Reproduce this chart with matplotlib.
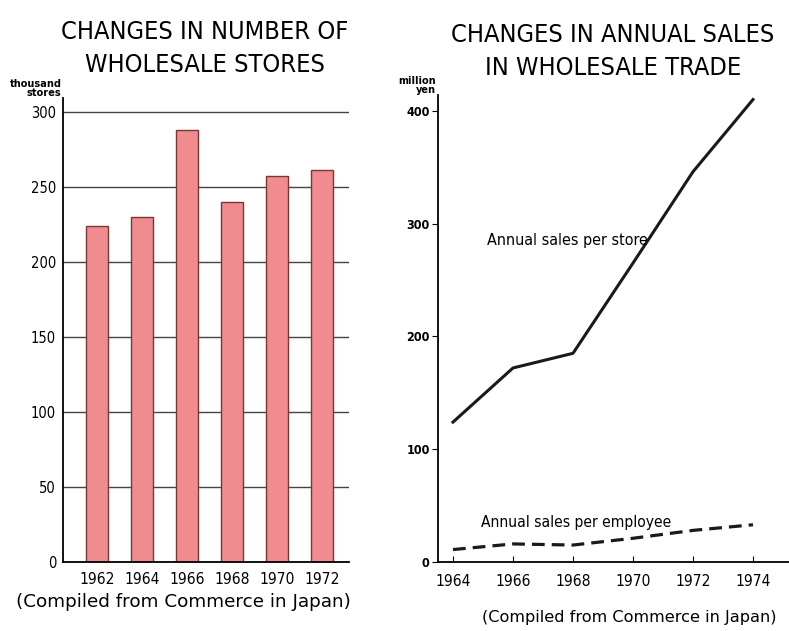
import matplotlib.pyplot as plt

plt.rcParams['font.family'] = ['DejaVu Sans']
plt.rcParams['font.stretch'] = 'condensed'

# left chart: number of wholesale stores (thousand)
store_years = ['1962', '1964', '1966', '1968', '1970', '1972']
store_counts = [224, 230, 288, 240, 257, 261]

# right chart: annual sales (million yen)
sales_years = [1964, 1966, 1968, 1970, 1972, 1974]
sales_per_store = [124, 172, 185, 265, 346, 410]
sales_per_employee = [11, 16, 15, 21, 28, 33]

fig = plt.figure(figsize=(7.89, 6.31), dpi=100)

# ---- left: bars
ax1 = fig.add_axes([0.0798, 0.1094, 0.3625, 0.7353])
x = range(len(store_years))
ax1.set_axisbelow(True)
ax1.yaxis.grid(True, color='#444444', linewidth=1.0)
ax1.bar(x, store_counts, width=0.49, color='#f08c90', edgecolor='#7a3535', linewidth=1.0)
ax1.set_xlim(-0.756, 5.6)
ax1.set_ylim(0, 309)
ax1.set_yticks([0, 50, 100, 150, 200, 250, 300])
ax1.set_xticks(list(x))
ax1.set_xticklabels(store_years, fontsize=11.2)
ax1.tick_params(axis='both', length=0)
ax1.tick_params(axis='y', labelsize=10.5, pad=5)
ax1.tick_params(axis='x', pad=7)
for s in ['top', 'right']:
    ax1.spines[s].set_visible(False)
ax1.spines['left'].set_linewidth(1.3)
ax1.spines['bottom'].set_linewidth(1.3)
ax1.text(-0.005, 1.0, 'thousand\nstores', transform=ax1.transAxes, ha='right', va='bottom',
         fontsize=7.8, fontweight='bold', linespacing=0.9)
fig.text(0.26, 0.968, 'CHANGES IN NUMBER OF\nWHOLESALE STORES', ha='center', va='top',
         fontsize=18.2, linespacing=1.45)
fig.text(0.232, 0.046, '(Compiled from Commerce in Japan)', ha='center', va='center',
         fontsize=13.2, fontstretch='normal')

# ---- right: lines
ax2 = fig.add_axes([0.5551, 0.1094, 0.4449, 0.74])
ax2.plot(sales_years, sales_per_store, color='#1a1a1a', linewidth=2.2)
ax2.plot(sales_years, sales_per_employee, color='#1a1a1a', linewidth=2.3, linestyle=(0, (4, 2.2)))
ax2.set_xlim(1963.5, 1975.2)
ax2.set_ylim(0, 414)
ax2.set_xticks(sales_years)
ax2.set_yticks([0, 100, 200, 300, 400])
ax2.tick_params(axis='x', direction='in', length=4, labelsize=11.2, pad=9)
ax2.tick_params(axis='y', direction='out', length=4, labelsize=9, pad=2)
for lbl in ax2.get_yticklabels():
    lbl.set_fontweight('bold')
for s in ['top', 'right']:
    ax2.spines[s].set_visible(False)
ax2.spines['left'].set_linewidth(1.3)
ax2.spines['bottom'].set_linewidth(1.3)
ax2.text(-0.005, 1.0, 'million\nyen', transform=ax2.transAxes, ha='right', va='bottom',
         fontsize=7.8, fontweight='bold', linespacing=0.85)
ax2.text(1965.15, 285, 'Annual sales per store', fontsize=11.5, va='center')
ax2.text(1964.95, 35, 'Annual sales per employee', fontsize=11.2, va='center')
fig.text(0.777, 0.963, 'CHANGES IN ANNUAL SALES\nIN WHOLESALE TRADE', ha='center', va='top',
         fontsize=18.2, linespacing=1.45)
fig.text(0.797, 0.021, '(Compiled from Commerce in Japan)', ha='center', va='center',
         fontsize=11.6, fontstretch='normal')

fig.savefig('out.png', dpi=100)
